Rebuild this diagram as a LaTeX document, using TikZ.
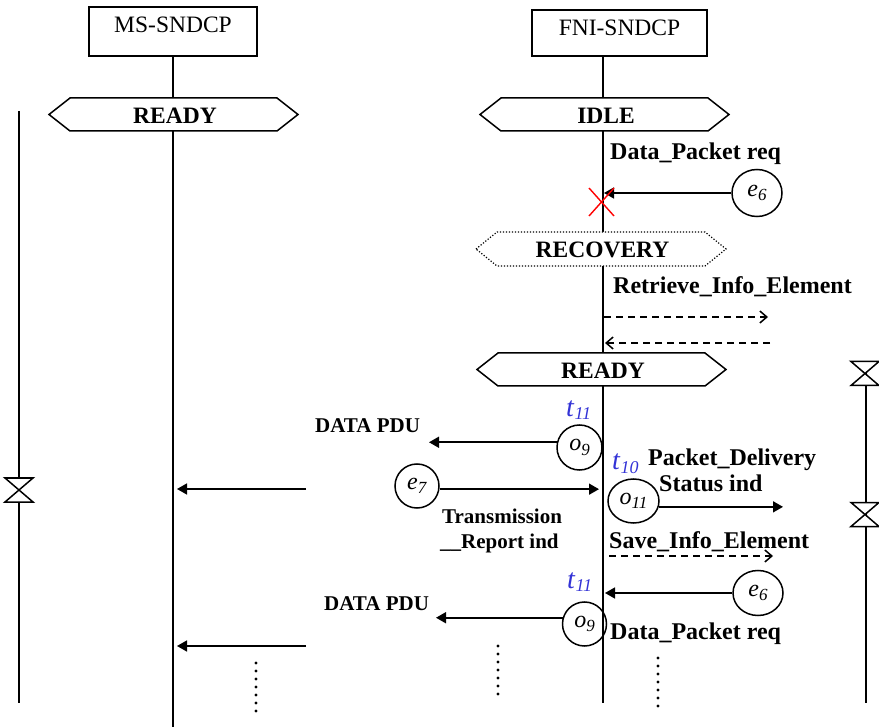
\documentclass[tikz,border=0pt]{standalone}
\usepackage{fontspec}
\setmainfont{Liberation Serif}
\usetikzlibrary{arrows.meta,shapes.geometric}
\definecolor{tblue}{RGB}{51,51,214}

% italic event/output name with a lowered italic index
\newcommand\evt[2]{\textit{#1}\raisebox{-4.5pt}{\fontsize{17}{17}\selectfont\textit{#2}}}
% timer name with a lowered index
\newcommand\tmr[2]{\textit{#1}\raisebox{-3pt}{\fontsize{18}{18}\selectfont\textit{#2}}}

% state symbol: [style]{name}{cx}{cy}{half width}{half height}{label}
\newcommand\statehex[7][]{%
  \draw[hexline,#1] (#3-#5,#4) -- (#3-#5+21,#4-#6) -- (#3+#5-21,#4-#6)
    -- (#3+#5,#4) -- (#3+#5-21,#4+#6) -- (#3-#5+21,#4+#6) -- cycle;
  \node[statelbl] (#2) at (#3+1.5,#4+1) {#7};}

% timer symbol (hourglass) centred at x,y
\newcommand\hourglass[2]{%
  \draw[hgline] (#1-14,#2-12) -- (#1+14,#2-12) -- (#1-14,#2+12) -- (#1+14,#2+12) -- cycle;}

\begin{document}
\begin{tikzpicture}[x=1pt,y=-1pt,
  entity/.style={draw, line width=1.5pt, inner sep=0pt,
    font=\fontsize{23.5}{28}\selectfont, text height=16pt},
  lifeline/.style={line width=1.8pt},
  timeline/.style={line width=1.5pt},
  hexline/.style={line width=1.5pt, fill=white},
  hgline/.style={line width=1.5pt, fill=white},
  statelbl/.style={font=\fontsize{23.5}{28}\selectfont\bfseries, inner sep=0pt},
  msg/.style={line width=1.6pt, -{Triangle[length=10pt,width=11pt]}},
  intmsg/.style={line width=1.5pt, dash pattern=on 7pt off 5pt,
    -{Straight Barb[length=7pt,width=12pt,line width=1.5pt]}},
  evnode/.style={draw, ellipse, line width=1.5pt, inner sep=0pt,
    font=\fontsize{24}{24}\selectfont},
  lbl/.style={font=\fontsize{24}{28}\selectfont\bfseries, inner sep=0pt, anchor=base west},
  lbls/.style={font=\fontsize{21}{25}\selectfont\bfseries, inner sep=0pt, anchor=base west},
  tlbl/.style={text=tblue, font=\fontsize{28}{32}\selectfont, inner sep=0pt, anchor=base west},
  cross/.style={draw=red, line width=1.4pt}
]
\useasboundingbox (0,0) rectangle (879,727);

% entities and their lifelines
\node[entity, minimum width=168pt, minimum height=49pt, text depth=13pt] (ms) at (173,31.5) {MS-SNDCP};
\node[entity, minimum width=175pt, minimum height=46pt, text depth=10pt] (fni) at (619.5,33) {FNI-SNDCP};
\coordinate (msbot) at (173,727);
\coordinate (fbot) at (603,703);
\draw[lifeline] (ms.south) -- (msbot);
\draw[lifeline] (fni.south -| fbot) -- (fbot);

% timer lines
\coordinate (ltop) at (19,111);
\coordinate (lbot) at (19,703);
\coordinate (rtop) at (866,362);
\coordinate (rbot) at (866,703);
\draw[timeline] (ltop) -- (lbot);
\draw[timeline] (rtop) -- (rbot);
\hourglass{19}{490}
\hourglass{865}{373.5}
\hourglass{865}{514.5}

% states
\statehex{msready}{173.5}{114.5}{124.5}{16.5}{READY}
\statehex{idle}{604.5}{114.5}{124.5}{16.5}{IDLE}
\statehex[dash pattern=on 1.2pt off 1.8pt, line width=1.2pt]{recovery}{601}{249}{125}{17}{RECOVERY}
\statehex{fready}{601.5}{369.5}{124.5}{16.5}{READY}

% discarded request in IDLE
\node[lbl] (dpr1) at (610,160) {Data\_Packet req};
\node[evnode, minimum width=50pt, minimum height=47pt] (e6a) at (757,193) {\evt{e}{6}};
\coordinate (x1) at (604,193);
\draw[msg] (e6a) -- (x1);
\coordinate (xc) at (601.5,202);
\draw[cross] ([shift={(-12.5,-14)}]xc) -- ([shift={(12.5,14)}]xc);
\draw[cross] ([shift={(12.5,-14)}]xc) -- ([shift={(-12.5,14)}]xc);

% recovery of the stored information element
\node[lbl] (rie) at (613,294) {Retrieve\_Info\_Element};
\coordinate (r1) at (604,317);
\coordinate (r2) at (768,317);
\coordinate (r3) at (770,343);
\coordinate (r4) at (605,343);
\draw[intmsg] (r1) -- (r2);
\draw[intmsg] (r3) -- (r4);

% first data PDU
\node[tlbl] (t11a) at (566,417) {\tmr{t}{11}};
\node[lbls] (pdu1) at (315,433) {DATA PDU};
\node[evnode, minimum width=45pt, minimum height=45pt] (o9a) at (579.5,447.5) {\evt{o}{9}};
\coordinate (d1) at (429,443);
\draw[msg] (o9a.167) -- (d1 |- o9a.167);

% transmission report
\coordinate (ls1) at (306,489);
\coordinate (le1) at (177,489);
\draw[msg] (ls1) -- (le1);
\node[evnode, minimum width=44pt, minimum height=44pt] (e7) at (417,486) {\evt{e}{7}};
\coordinate (tr) at (599,489);
\draw[msg] (e7.-8) -- (tr |- e7.-8);
\node[lbls] (trn) at (442,523) {Transmission};
\node[lbls] (rep) at (440,548) {\_\_Report ind};

% delivery status
\node[tlbl] (t10) at (612,470) {\tmr{t}{10}};
\node[lbl] (pdl) at (648,466) {Packet\_Delivery};
\node[lbl] (sti) at (659,492) {Status ind};
\node[evnode, minimum width=51pt, minimum height=44pt] (o11) at (633.5,501) {\evt{o}{11}};
\coordinate (ps) at (783,506);
\draw[msg] (o11.-13) -- (ps |- o11.-13);

% saving the information element
\node[lbl] (sie) at (609,548) {Save\_Info\_Element};
\coordinate (s1) at (609,556);
\coordinate (s2) at (773,556);
\draw[intmsg] (s1) -- (s2);

% next data packet
\node[tlbl] (t11b) at (567,588) {\tmr{t}{11}};
\node[evnode, minimum width=50pt, minimum height=45pt] (e6b) at (758,593) {\evt{e}{6}};
\coordinate (x2) at (605,593);
\draw[msg] (e6b) -- (x2);
\node[lbls] (pdu2) at (324,610) {DATA PDU};
\node[evnode, minimum width=44pt, minimum height=44pt] (o9b) at (584.5,624) {\evt{o}{9}};
\coordinate (d2) at (436,618);
\draw[msg] (o9b.164) -- (d2 |- o9b.164);
\node[lbl] (dpr2) at (610,639) {Data\_Packet req};
\coordinate (ls2) at (306,646);
\coordinate (le2) at (177,646);
\draw[msg] (ls2) -- (le2);

% continuation dots
\foreach \k in {0,...,6} {
  \fill (256,663+8*\k) circle (1.6);
  \fill (498,646+8*\k) circle (1.6);
  \fill (658,658+8*\k) circle (1.6);
}
\end{tikzpicture}
\end{document}
